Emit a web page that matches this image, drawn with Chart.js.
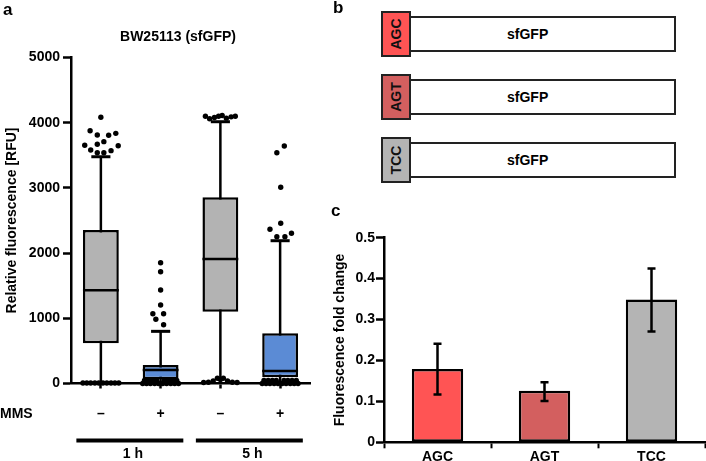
<!DOCTYPE html>
<html>
<head>
<meta charset="utf-8">
<script src="https://cdn.jsdelivr.net/npm/chart.js@4.4.1/dist/chart.umd.min.js"></script>
<style>
  body { margin: 0; background: #fff; font-family: "Liberation Sans", Arial, sans-serif; }
  #wrap { position: relative; width: 706px; height: 461px; overflow: hidden; }
  canvas { position: absolute; }
  .panel { position: absolute; font-weight: bold; font-size: 17px; color: #000; }
  .gene { position: absolute; border: 2.5px solid #222; box-sizing: border-box; background: #fff; }
  .codon { position: absolute; border: 2.5px solid #222; box-sizing: border-box; }
  .codon span { position: absolute; left: 50%; top: 50%; transform: translate(-50%, -50%) rotate(-90deg);
                font-weight: bold; font-size: 14px; color: #111; }
  .gname { position: absolute; font-weight: bold; font-size: 14px; color: #000; }
</style>
</head>
<body>
<div id="wrap">
  <canvas id="boxChart" width="330" height="461" style="left:0;top:0"></canvas>
  <canvas id="foldChart" width="376" height="266" style="left:330px;top:195px"></canvas>
  <div id="constructs"></div>
  <div class="panel" style="left:3px;top:0px">a</div>
  <div class="panel" style="left:333px;top:-2px">b</div>
  <div class="panel" style="left:331px;top:201px">c</div>
</div>
<script>
const FONT = '"Liberation Sans", Arial, sans-serif';

// panel a - box plot data (RFU)
const mmsLabels = ['–', '+', '–', '+'];
const timeGroups = ['1 h', '5 h'];
const q1 = [617, 64, 1101, 95];
const q3 = [2354, 284, 2856, 770];
const medians = [1429, 207, 1910, 192];
const whiskerLow = [0, 0, 30, 0];
const whiskerHigh = [3478, 800, 4015, 2190];
const boxColors = ['#b3b3b3', '#5b8bd5', '#b3b3b3', '#5b8bd5'];

// outliers as [offset within the category, value]
const outliers1hMinus = [
  [0, 4083], [-0.18, 3877], [-0.06, 3811], [0.13, 3807], [0.25, 3837],
  [-0.27, 3653], [-0.06, 3669], [0.05, 3709], [0.29, 3647],
  [-0.17, 3581], [-0.06, 3540], [0.05, 3540], [0.17, 3571],
  [-0.3, 8], [-0.235, 8], [-0.17, 8], [-0.1, 8], [-0.035, 8],
  [0.035, 8], [0.1, 8], [0.17, 8], [0.235, 8], [0.3, 8]
];
const outliers1hPlus = [
  [0, 1853], [0, 1715], [0, 1434], [0, 1204], [-0.13, 1070], [0.05, 1070],
  [-0.08, 985], [0.05, 900],
  [-0.3, 0], [-0.235, 0], [-0.17, 0], [-0.1, 0], [-0.035, 0],
  [0.035, 0], [0.1, 0], [0.17, 0], [0.235, 0], [0.3, 0],
  [-0.27, 45], [-0.2, 45], [-0.13, 45], [-0.065, 45], [0.065, 45], [0.13, 45], [0.2, 45], [0.27, 45]
];
const outliers5hMinus = [
  [-0.25, 4100], [-0.18, 4060], [-0.1, 4080], [-0.03, 4100],
  [0.03, 4110], [0.1, 4070], [0.18, 4090], [0.25, 4100],
  [-0.28, 15], [-0.2, 20], [-0.12, 40], [-0.05, 80], [0, 60],
  [0.05, 80], [0.12, 40], [0.2, 20], [0.28, 15]
];
const outliers5hPlus = [
  [0.07, 3643], [-0.055, 3540], [0.01, 3009], [0.01, 2457], [-0.17, 2365],
  [0.19, 2304], [-0.055, 2252], [0.08, 2252],
  [-0.3, 0], [-0.235, 0], [-0.17, 0], [-0.1, 0], [-0.035, 0],
  [0.035, 0], [0.1, 0], [0.17, 0], [0.235, 0], [0.3, 0],
  [-0.27, 45], [-0.2, 45], [-0.13, 45], [-0.065, 45], [0.065, 45], [0.13, 45], [0.2, 45], [0.27, 45]
];
const outlierGroups = [outliers1hMinus, outliers1hPlus, outliers5hMinus, outliers5hPlus];

// panel c - fold change
const codons = ['AGC', 'AGT', 'TCC'];
const foldChange = [0.179, 0.126, 0.349];
const errLow = [0.117, 0.101, 0.271];
const errHigh = [0.241, 0.147, 0.425];
const codonColors = ['#ff5454', '#d35f5f', '#b4b4b4'];

const boxPoints = q1.map((v, i) => ({ x: i, y: [v, q3[i]] }));
const outlierPoints = [];
outlierGroups.forEach((grp, i) => {
  grp.forEach(p => outlierPoints.push({ x: i + p[0], y: p[1] }));
});

const boxParts = {
  id: 'boxParts',
  beforeDatasetsDraw(chart) {
    const ctx = chart.ctx, y = chart.scales.y, x = chart.scales.x;
    ctx.save();
    ctx.strokeStyle = '#000';
    for (let i = 0; i < q1.length; i++) {
      const cx = x.getPixelForValue(i);
      const top = y.getPixelForValue(whiskerHigh[i]);
      const bot = y.getPixelForValue(whiskerLow[i]);
      ctx.lineWidth = 2.5;
      ctx.beginPath();
      ctx.moveTo(cx, top); ctx.lineTo(cx, bot);
      ctx.stroke();
      ctx.lineWidth = 3;
      ctx.beginPath();
      ctx.moveTo(x.getPixelForValue(i - 0.16), top);
      ctx.lineTo(x.getPixelForValue(i + 0.16), top);
      ctx.stroke();
    }
    ctx.restore();
  },
  afterDatasetDraw(chart, args) {
    if (args.index !== 0) return;
    const ctx = chart.ctx, y = chart.scales.y;
    const meta = chart.getDatasetMeta(0);
    ctx.save();
    ctx.strokeStyle = '#000';
    ctx.lineWidth = 2.5;
    meta.data.forEach((bar, i) => {
      const py = y.getPixelForValue(medians[i]);
      ctx.beginPath();
      ctx.moveTo(bar.x - bar.width / 2, py);
      ctx.lineTo(bar.x + bar.width / 2, py);
      ctx.stroke();
    });
    ctx.restore();
  },
  afterDraw(chart) {
    const ctx = chart.ctx, x = chart.scales.x, area = chart.chartArea;
    ctx.save();
    ctx.fillStyle = '#000';
    ctx.strokeStyle = '#000';
    ctx.font = 'bold 14px ' + FONT;
    ctx.textBaseline = 'middle';
    ctx.textAlign = 'center';
    ctx.fillText('BW25113 (sfGFP)', 178, 37);
    ctx.textAlign = 'left';
    ctx.fillText('MMS', 0, area.bottom + 31);
    timeGroups.forEach((g, k) => {
      const x0 = x.getPixelForValue(2 * k - 0.41);
      const x1 = x.getPixelForValue(2 * k + 1.38);
      ctx.lineWidth = 4;
      ctx.beginPath();
      ctx.moveTo(x0, area.bottom + 57);
      ctx.lineTo(x1, area.bottom + 57);
      ctx.stroke();
      ctx.textAlign = 'center';
      ctx.fillText(g, (x0 + x1) / 2 + 3, area.bottom + 71);
    });
    ctx.restore();
  }
};

new Chart(document.getElementById('boxChart'), {
  type: 'bar',
  data: {
    datasets: [
      {
        type: 'bar',
        data: boxPoints,
        backgroundColor: boxColors,
        borderColor: '#000',
        borderWidth: 2.5,
        borderSkipped: false,
        barPercentage: 0.6,
        categoryPercentage: 1,
        grouped: false,
        order: 2
      },
      {
        type: 'scatter',
        data: outlierPoints,
        pointRadius: 2.7,
        pointBackgroundColor: '#000',
        pointBorderWidth: 0,
        clip: false,
        order: 1
      }
    ]
  },
  options: {
    responsive: false,
    animation: false,
    layout: { padding: { top: 57.5, right: 20, left: 0, bottom: 0 } },
    plugins: { legend: { display: false }, tooltip: { enabled: false } },
    scales: {
      x: {
        type: 'linear',
        min: -0.5, max: 3.5,
        offset: false,
        afterBuildTicks: s => { s.ticks = mmsLabels.map((_, i) => ({ value: i })); },
        grid: { display: true, drawOnChartArea: false, offset: false, tickLength: 5, tickWidth: 2.5, tickColor: '#000' },
        border: { color: '#000', width: 2.5 },
        ticks: { color: '#000', font: { family: FONT, size: 14, weight: 'bold' }, padding: 17,
                 autoSkip: false, maxRotation: 0, callback: v => mmsLabels[v] },
        afterFit: s => { s.height = 77.5; }
      },
      y: {
        min: 0, max: 5000,
        ticks: { stepSize: 1000, color: '#000', font: { family: FONT, size: 14, weight: 'bold' }, padding: 3,
                 callback: v => String(v) },
        grid: { drawOnChartArea: false, tickLength: 8, tickWidth: 2.5, tickColor: '#000' },
        border: { color: '#000', width: 2.5 },
        title: { display: true, text: 'Relative fluorescence [RFU]', color: '#000',
                 font: { family: FONT, size: 14, weight: 'bold' }, padding: { top: 4, bottom: 0 } },
        afterFit: s => { s.width = 71; }
      }
    }
  },
  plugins: [boxParts]
});

// panel c
const errorBars = {
  id: 'errorBars',
  afterDatasetsDraw(chart) {
    const ctx = chart.ctx, y = chart.scales.y;
    const meta = chart.getDatasetMeta(0);
    ctx.save();
    ctx.strokeStyle = '#000';
    ctx.lineWidth = 2.5;
    meta.data.forEach((bar, i) => {
      const top = y.getPixelForValue(errHigh[i]);
      const bot = y.getPixelForValue(errLow[i]);
      ctx.beginPath();
      ctx.moveTo(bar.x, top); ctx.lineTo(bar.x, bot);
      ctx.moveTo(bar.x - 4, top); ctx.lineTo(bar.x + 4, top);
      ctx.moveTo(bar.x - 4, bot); ctx.lineTo(bar.x + 4, bot);
      ctx.stroke();
    });
    ctx.restore();
  }
};

new Chart(document.getElementById('foldChart'), {
  type: 'bar',
  data: {
    labels: codons,
    datasets: [{
      data: foldChange,
      backgroundColor: codonColors,
      borderColor: '#000',
      borderWidth: 2.5,
      borderSkipped: false,
      barPercentage: 0.48,
      categoryPercentage: 1
    }]
  },
  options: {
    responsive: false,
    animation: false,
    layout: { padding: { top: 42.7, right: 1, left: 0, bottom: 0 } },
    plugins: { legend: { display: false }, tooltip: { enabled: false } },
    scales: {
      x: {
        grid: { display: true, drawOnChartArea: false, offset: true, tickLength: 6, tickWidth: 2, tickColor: '#000' },
        border: { color: '#000', width: 2.5 },
        ticks: { color: '#000', font: { family: FONT, size: 14, weight: 'bold' }, padding: 0 },
        afterFit: s => { s.height = 18.7; }
      },
      y: {
        min: 0, max: 0.5,
        ticks: { stepSize: 0.1, color: '#000', font: { family: FONT, size: 14, weight: 'bold' }, padding: 1,
                 callback: v => v === 0 ? '0' : v.toFixed(1) },
        grid: { drawOnChartArea: false, tickLength: 8, tickWidth: 2.5, tickColor: '#000' },
        border: { color: '#000', width: 2.5 },
        title: { display: true, text: 'Fluorescence fold change', color: '#000',
                 font: { family: FONT, size: 14, weight: 'bold' }, padding: { top: 2, bottom: 0 } },
        afterFit: s => { s.width = 54; }
      }
    }
  },
  plugins: [errorBars]
});

// panel b - constructs
const holder = document.getElementById('constructs');
codons.forEach((c, i) => {
  const top = 11 + i * 63;
  const gene = document.createElement('div');
  gene.className = 'gene';
  gene.style.cssText = `left:409px;top:${top + 5}px;width:267px;height:36px`;
  holder.appendChild(gene);
  const name = document.createElement('div');
  name.className = 'gname';
  name.textContent = 'sfGFP';
  name.style.cssText = `left:507px;top:${top + 15}px`;
  holder.appendChild(name);
  const box = document.createElement('div');
  box.className = 'codon';
  box.style.cssText = `left:381px;top:${top}px;width:30px;height:46px;background:${codonColors[i]}`;
  box.innerHTML = `<span>${c}</span>`;
  holder.appendChild(box);
});
</script>
</body>
</html>
